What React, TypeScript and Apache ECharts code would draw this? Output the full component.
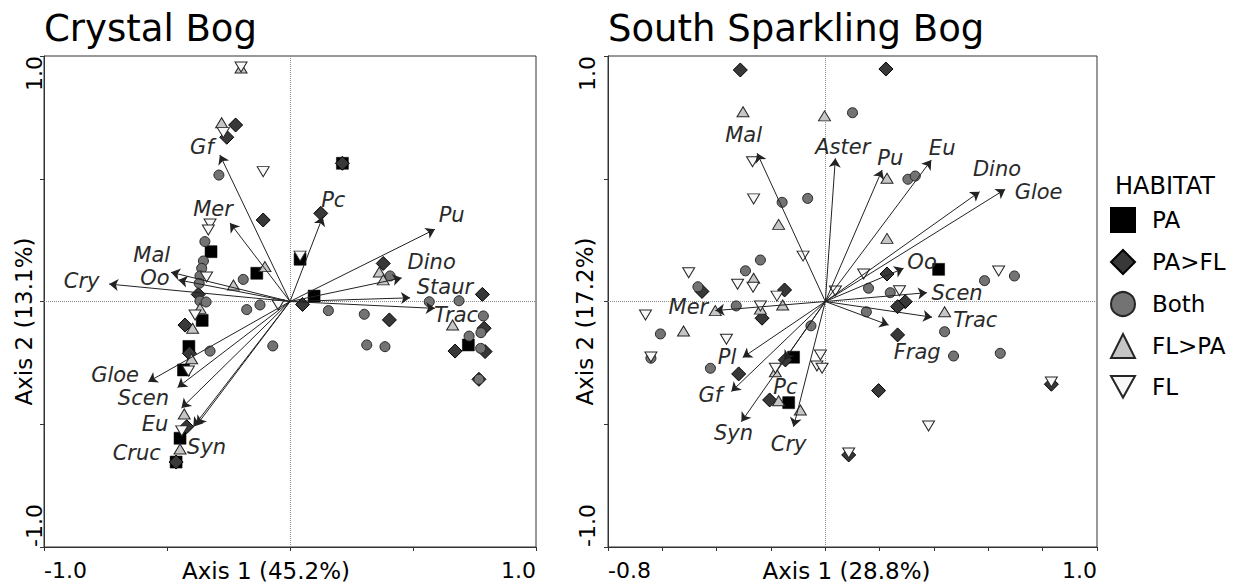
import React, { useEffect, useRef } from 'react';
import * as echarts from 'echarts';

const FONT = 'DejaVu Sans';

const habitats = ['PA', 'PA>FL', 'Both', 'FL>PA', 'FL'];

// ---------- Crystal Bog : sample scores ----------
const crystalPA = [[0.041, 0.172], [0.213, 0.563], [0.098, 0.022], [-0.321, 0.203], [-0.135, 0.115], [-0.357, -0.077], [-0.411, -0.183], [-0.433, -0.279], [-0.447, -0.557], [-0.463, -0.654], [0.725, -0.177]];
const crystalPAFL = [[-0.221, 0.719], [-0.257, 0.669], [-0.109, 0.332], [-0.373, 0.029], [-0.427, -0.096], [-0.409, -0.211], [-0.42, -0.51], [-0.463, -0.654], [0.213, 0.563], [0.125, 0.359], [0.051, -0.012], [0.379, 0.155], [0.404, -0.075], [0.782, 0.029], [0.789, -0.109], [0.671, -0.202], [0.793, -0.204], [0.768, -0.317]];
const crystalBoth = [[-0.289, 0.515], [-0.346, 0.244], [-0.352, 0.165], [-0.359, 0.135], [-0.366, 0.104], [-0.369, 0.074], [-0.366, 0.002], [-0.341, -0.002], [-0.325, -0.202], [-0.19, 0.09], [-0.176, -0.033], [-0.122, -0.014], [-0.07, -0.181], [0.407, 0.104], [0.156, -0.037], [0.302, -0.052], [0.312, -0.177], [0.386, -0.184], [0.566, -0.001], [0.687, 0.003], [0.786, -0.059], [0.776, -0.127], [0.728, -0.141], [0.775, -0.191], [0.768, -0.317]];
const crystalFLPA = [[-0.199, 0.951], [-0.278, 0.728], [-0.102, 0.142], [-0.23, 0.067], [-0.366, -0.028], [-0.396, -0.109], [-0.4, -0.233], [-0.43, -0.458], [-0.447, -0.601], [0.363, 0.12], [0.379, 0.088], [0.661, -0.096]];
const crystalFL = [[-0.199, 0.955], [-0.271, 0.688], [-0.109, 0.529], [-0.325, 0.316], [-0.332, 0.291], [-0.339, 0.1], [-0.386, -0.055], [-0.413, -0.283], [-0.44, -0.527], [0.041, 0.185], [-0.048, -0.014]];

// ---------- Crystal Bog : species vectors ----------
const crystalSpecies = ['Gf', 'Mer', 'Mal', 'Oo', 'Cry', 'Pc', 'Pu', 'Dino', 'Staur', 'Trac', 'Gloe', 'Scen', 'Eu', 'Cruc', 'Syn'];
const crystalArrows = [[-0.285, 0.597], [-0.244, 0.32], [-0.484, 0.119], [-0.454, 0.088], [-0.735, 0.071], [0.133, 0.345], [0.589, 0.294], [0.454, 0.096], [0.488, 0.015], [0.589, -0.028], [-0.576, -0.327], [-0.457, -0.35], [-0.441, -0.434], [-0.393, -0.51], [-0.379, -0.503]];
const crystalLabelAt = [[-0.358, 0.629], [-0.313, 0.377], [-0.562, 0.19], [-0.549, 0.094], [-0.847, 0.084], [0.176, 0.413], [0.657, 0.352], [0.576, 0.16], [0.63, 0.058], [0.675, -0.055], [-0.711, -0.3], [-0.596, -0.393], [-0.549, -0.499], [-0.623, -0.618], [-0.339, -0.591]];

// ---------- South Sparkling Bog : sample scores ----------
const sparkPA = [[0.417, 0.131], [-0.117, -0.227], [-0.135, -0.412]];
const sparkPAFL = [[-0.313, 0.943], [0.223, 0.947], [-0.454, 0.041], [-0.15, 0.047], [-0.233, -0.068], [-0.319, -0.295], [-0.147, -0.238], [-0.205, -0.401], [0.227, 0.112], [0.294, -0.001], [0.266, -0.021], [0.266, -0.136], [0.196, -0.363], [0.086, -0.625], [0.832, -0.337]];
const sparkBoth = [[-0.159, 0.404], [-0.065, 0.42], [-0.239, 0.169], [-0.294, 0.125], [-0.469, 0.06], [-0.328, -0.018], [-0.607, -0.132], [-0.642, -0.231], [-0.423, -0.272], [-0.053, -0.099], [0.1, 0.769], [0.304, 0.498], [0.331, 0.511], [0.586, 0.085], [0.696, 0.104], [0.159, 0.054], [0.239, 0.036], [0.151, -0.042], [0.439, -0.123], [0.472, -0.222], [0.644, -0.211]];
const sparkFLPA = [[-0.303, 0.773], [-0.003, 0.756], [-0.172, 0.314], [-0.264, 0.095], [-0.157, -0.014], [-0.239, -0.031], [-0.405, -0.037], [-0.522, -0.12], [-0.184, -0.286], [-0.172, -0.404], [-0.092, -0.442], [0.227, 0.502], [0.227, 0.257], [0.439, -0.042]];
const sparkFL = [[-0.268, 0.569], [-0.264, 0.418], [-0.082, 0.185], [-0.503, 0.117], [-0.323, 0.07], [-0.266, 0.058], [-0.178, 0.022], [-0.239, -0.018], [-0.662, -0.055], [-0.364, -0.154], [-0.642, -0.226], [-0.018, -0.218], [-0.031, -0.263], [-0.012, -0.272], [-0.184, -0.272], [0.141, 0.112], [0.638, 0.124], [0.037, 0.043], [0.273, 0.044], [0.38, -0.507], [0.086, -0.617], [0.832, -0.328]];

// ---------- South Sparkling Bog : species vectors ----------
const sparkSpecies = ['Mal', 'Aster', 'Pu', 'Eu', 'Dino', 'Gloe', 'Oo', 'Scen', 'Trac', 'Frag', 'Mer', 'Pl', 'Gf', 'Pc', 'Syn', 'Cry'];
const sparkArrows = [[-0.251, 0.604], [0.037, 0.583], [0.209, 0.536], [0.39, 0.576], [0.568, 0.447], [0.662, 0.457], [0.288, 0.135], [0.374, 0.036], [0.393, -0.064], [0.233, -0.096], [-0.405, -0.037], [-0.304, -0.228], [-0.346, -0.367], [-0.151, -0.238], [-0.309, -0.49], [-0.117, -0.51]];
const sparkLabelAt = [[-0.301, 0.678], [0.064, 0.631], [0.239, 0.583], [0.43, 0.624], [0.632, 0.538], [0.785, 0.447], [0.356, 0.162], [0.485, 0.033], [0.552, -0.075], [0.338, -0.204], [-0.504, -0.022], [-0.362, -0.225], [-0.423, -0.381], [-0.147, -0.347], [-0.338, -0.534], [-0.135, -0.58]];

// ---------- axes ----------
const crystalXRange = [-1, 1];
const sparkXRange = [-0.8, 1];
const yRange = [-1, 1];
const crystalXTitle = 'Axis 1 (45.2%)';
const crystalYTitle = 'Axis 2 (13.1%)';
const sparkXTitle = 'Axis 1 (28.8%)';
const sparkYTitle = 'Axis 2 (17.2%)';
const titles = ['Crystal Bog', 'South Sparkling Bog'];

const markerStyle: Record<string, any> = {
  'PA': { symbol: 'rect', symbolSize: 12, itemStyle: { color: '#000000', borderColor: '#000000', borderWidth: 0.5, opacity: 1 } },
  'PA>FL': { symbol: 'diamond', symbolSize: 14, itemStyle: { color: '#383838', borderColor: '#000000', borderWidth: 1, opacity: 1 } },
  'Both': { symbol: 'circle', symbolSize: 10, itemStyle: { color: '#737373', borderColor: '#262626', borderWidth: 1, opacity: 1 } },
  'FL>PA': { symbol: 'triangle', symbolSize: [12, 10], itemStyle: { color: '#c6c6c6', borderColor: '#262626', borderWidth: 1, opacity: 1 } },
  'FL': { symbol: 'path://M0,0L10,0L5,9Z', symbolSize: [12, 10], itemStyle: { color: '#f8f8f8', borderColor: '#262626', borderWidth: 1, opacity: 1 } },
};

const edgeLabel = (min: number, max: number) => (v: number) =>
  Math.abs(v - min) < 1e-6 || Math.abs(v - max) < 1e-6 ? v.toFixed(1) : '';

function buildOption() {
  const series: any[] = [];
  const grids = [
    { data: [crystalPA, crystalPAFL, crystalBoth, crystalFLPA, crystalFL], species: crystalSpecies, arrows: crystalArrows, labels: crystalLabelAt },
    { data: [sparkPA, sparkPAFL, sparkBoth, sparkFLPA, sparkFL], species: sparkSpecies, arrows: sparkArrows, labels: sparkLabelAt },
  ];
  grids.forEach((g, gi) => {
    habitats.forEach((h, hi) => {
      const s: any = {
        name: h,
        type: 'scatter',
        xAxisIndex: gi,
        yAxisIndex: gi,
        z: 2,
        ...markerStyle[h],
        data: g.data[hi],
      };
      if (hi === 0) {
        s.markLine = {
          silent: true,
          symbol: ['none', 'none'],
          label: { show: false },
          lineStyle: { type: 'dotted', color: '#8a8a8a', width: 1 },
          data: [{ xAxis: 0 }, { yAxis: 0 }],
          z: 1,
        };
      }
      series.push(s);
    });
    series.push({
      name: 'vectors' + gi,
      type: 'lines',
      coordinateSystem: 'cartesian2d',
      xAxisIndex: gi,
      yAxisIndex: gi,
      z: 3,
      symbol: ['none', 'arrow'],
      symbolSize: 9,
      lineStyle: { color: '#222222', width: 1, opacity: 1 },
      data: g.arrows.map((p) => ({ coords: [[0, 0], p] })),
    });
    series.push({
      name: 'species' + gi,
      type: 'scatter',
      xAxisIndex: gi,
      yAxisIndex: gi,
      z: 4,
      symbol: 'circle',
      symbolSize: 1,
      itemStyle: { color: 'rgba(0,0,0,0)', opacity: 1 },
      label: {
        show: true,
        position: 'inside',
        formatter: '{b}',
        fontFamily: FONT,
        fontStyle: 'italic',
        fontSize: 21,
        lineHeight: 17,
        color: '#2a2a2a',
      },
      data: g.labels.map((p, i) => ({ name: g.species[i], value: p })),
    });
  });

  const axisCommon = {
    type: 'value',
    splitLine: { show: false },
    axisLine: { show: true, onZero: false, lineStyle: { color: '#333333', width: 1 } },
    axisTick: { show: true, length: 4, inside: false, lineStyle: { color: '#333333' } },
    nameMoveOverlap: false,
  };
  const labelCommon = {
    fontFamily: FONT,
    fontSize: 22,
    color: '#000000',
    showMinLabel: true,
    showMaxLabel: true,
    alignMinLabel: 'left',
    alignMaxLabel: 'right',
  };
  const nameStyle = { fontFamily: FONT, fontSize: 23, color: '#000000' };

  return {
    animation: false,
    backgroundColor: '#ffffff',
    title: [
      { text: titles[0], left: 44, top: 10, padding: 0, textStyle: { fontFamily: FONT, fontSize: 37, fontWeight: 'normal', color: '#000' } },
      { text: titles[1], left: 608, top: 10, padding: 0, textStyle: { fontFamily: FONT, fontSize: 37, fontWeight: 'normal', color: '#000' } },
      { text: 'HABITAT', left: 1115, top: 174, padding: 0, textStyle: { fontFamily: FONT, fontSize: 24, fontWeight: 'normal', color: '#000' } },
    ],
    legend: {
      data: habitats,
      orient: 'vertical',
      left: 1110,
      top: 207,
      padding: 0,
      itemWidth: 24,
      itemHeight: 24,
      itemGap: 16,
      textStyle: { fontFamily: FONT, fontSize: 23, color: '#000', padding: [0, 0, 0, 12] },
      selectedMode: false,
    },
    grid: [
      { left: 44, top: 56, width: 492, height: 491, outerBoundsMode: 'none', containLabel: false, show: true, borderColor: '#333333', borderWidth: 1, backgroundColor: 'transparent' },
      { left: 608, top: 56, width: 489, height: 491, outerBoundsMode: 'none', containLabel: false, show: true, borderColor: '#333333', borderWidth: 1, backgroundColor: 'transparent' },
    ],
    xAxis: [
      {
        ...axisCommon, gridIndex: 0, min: crystalXRange[0], max: crystalXRange[1], interval: 0.5,
        axisLabel: { ...labelCommon, margin: 12, formatter: edgeLabel(crystalXRange[0], crystalXRange[1]) },
        name: crystalXTitle, nameLocation: 'middle', nameGap: 12,
        nameTextStyle: { ...nameStyle, padding: [0, 48, 0, 0] },
      },
      {
        ...axisCommon, gridIndex: 1, min: sparkXRange[0], max: sparkXRange[1], interval: 0.2,
        axisLabel: { ...labelCommon, margin: 12, formatter: edgeLabel(sparkXRange[0], sparkXRange[1]) },
        name: sparkXTitle, nameLocation: 'middle', nameGap: 12,
        nameTextStyle: { ...nameStyle, padding: [0, 12, 0, 0] },
      },
    ],
    yAxis: [
      {
        ...axisCommon, gridIndex: 0, min: yRange[0], max: yRange[1], interval: 0.5,
        axisLabel: { ...labelCommon, rotate: 90, margin: -1, formatter: edgeLabel(yRange[0], yRange[1]) },
        name: crystalYTitle, nameLocation: 'middle', nameGap: 9,
        nameTextStyle: { ...nameStyle, padding: [0, 40, 0, 0] },
      },
      {
        ...axisCommon, gridIndex: 1, min: yRange[0], max: yRange[1], interval: 0.5,
        axisLabel: { ...labelCommon, rotate: 90, margin: 10, formatter: edgeLabel(yRange[0], yRange[1]) },
        name: sparkYTitle, nameLocation: 'middle', nameGap: 12,
        nameTextStyle: { ...nameStyle, padding: [0, 40, 0, 0] },
      },
    ],
    series,
  };
}

export default function App() {
  const ref = useRef<HTMLDivElement>(null);
  useEffect(() => {
    if (!ref.current) return;
    const chart = echarts.init(ref.current, null, { renderer: 'svg' });
    chart.setOption(buildOption() as any);
    return () => chart.dispose();
  }, []);
  return (
    <div
      ref={ref}
      style={{ position: 'fixed', left: 0, top: 0, width: 1244, height: 588, background: '#ffffff' }}
    />
  );
}
